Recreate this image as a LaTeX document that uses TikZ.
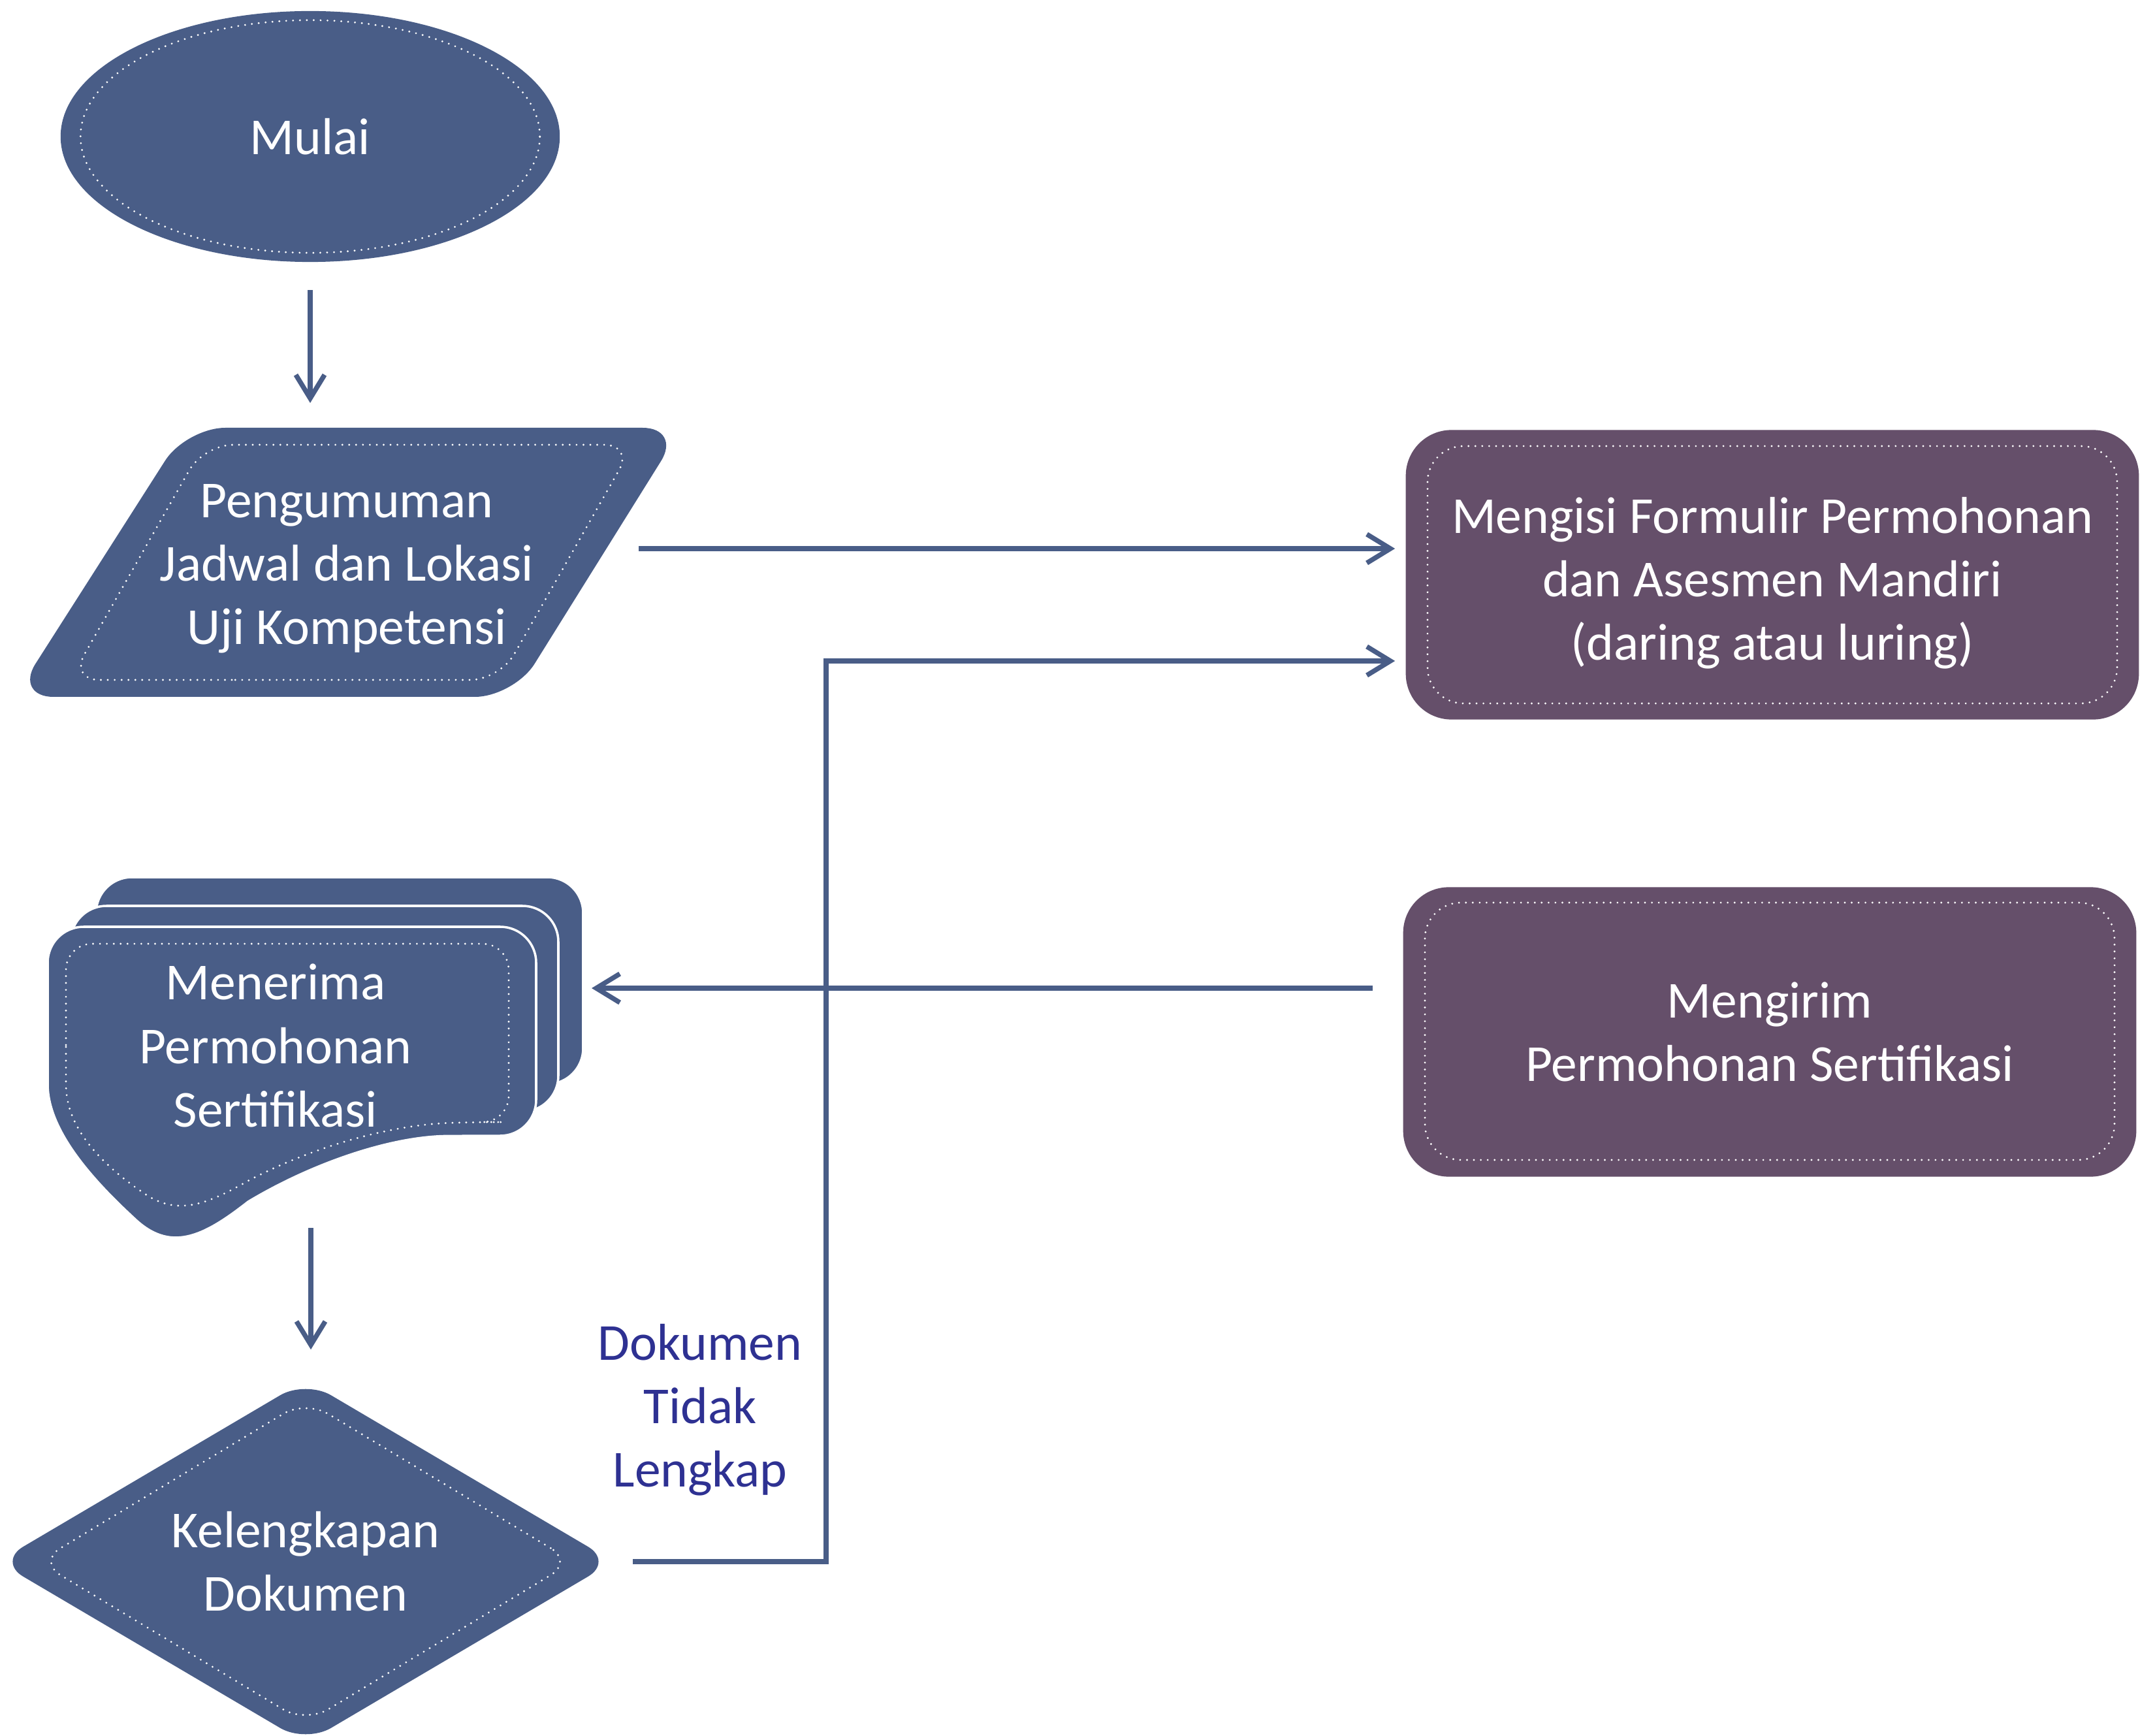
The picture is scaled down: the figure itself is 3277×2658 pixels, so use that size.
\documentclass[tikz,border=0pt]{standalone}
\usepackage{fontspec}
\setmainfont{Carlito}
\usepackage{tikz}
\usetikzlibrary{arrows.meta,calc,positioning,shapes.geometric}
\definecolor{flowblue}{RGB}{73,93,135}
\definecolor{flowpurple}{RGB}{101,79,106}
\definecolor{noteblue}{RGB}{46,49,146}
\newcommand{\flowfont}{\fontsize{22.6pt}{27.6pt}\selectfont}
\tikzset{%
	startstop/.style = {ellipse, fill=flowblue, text=white, font=\flowfont, inner sep=0pt, outer sep=0pt, minimum width=7.64cm, minimum height=3.84cm},
	process/.style   = {rectangle, rounded corners=0.7cm, fill=flowpurple, inner sep=0pt, outer sep=0pt, minimum width=11.22cm, minimum height=4.43cm},
	decision/.style  = {diamond, aspect=1.7, rounded corners=0.45cm, fill=flowblue, text=white, font=\flowfont, align=center, inner sep=0pt, outer sep=0pt, minimum width=9.42cm, minimum height=5.55cm},
	textonly/.style  = {text=white, font=\flowfont, align=center, inner sep=0pt},
	note/.style      = {text=noteblue, font=\flowfont, align=center, inner sep=0pt},
	dotline/.style   = {draw=white, line width=0.9pt, dash pattern=on 0pt off 3pt, line cap=round},
	page/.style      = {fill=flowblue, draw=white, line width=1pt},
	arrow/.style     = {draw=flowblue, line width=2.1pt, -{Straight Barb[length=3.6mm,width=4.4mm]}},
}

\begin{document}
\begin{tikzpicture}[x=0.01cm,y=-0.01cm]
		\useasboundingbox (0,0) rectangle (3277,2658);
		
		% start
		\node[startstop] (mulai) at (475,209) {Mulai};
		\node[ellipse, dotline, inner sep=0pt, minimum width=7.03cm, minimum height=3.56cm] (mulaidots) at (mulai.center) {};
		
		% input: announcement
		\fill[flowblue, rounded corners=0.6cm] (400,1067) -- (22,1067) -- (285,655) -- (1044,655) -- (787,1067) -- cycle;
		\draw[dotline, rounded corners=0.45cm] (400,1041) -- (107,1041) -- (312,681) -- (970,681) -- (765,1041) -- cycle;
		\node[textonly] (umum) at (531,871) {Pengumuman\\Jadwal dan Lokasi\\Uji Kompetensi};
		\coordinate (umumN) at (476,655);
		\coordinate (umumE) at (929,840);
		
		% multi document
		\filldraw[page, rounded corners=0.55cm] (147,1343) rectangle (893,1660);
		\filldraw[page, rounded corners=0.55cm] (108,1387) rectangle (855,1702);
		\filldraw[page] (73,1600) [rounded corners=0.55cm] -- (73,1419) -- (821,1419) -- (821,1739) -- (740,1739) [sharp corners] .. controls (600,1740) and (480,1780) .. (380,1840) .. controls (310,1895) and (260,1918) .. (205,1865) .. controls (140,1805) and (73,1730) .. (73,1660) -- cycle;
		\draw[dotline] (101,1600) [rounded corners=0.4cm] -- (101,1445) -- (779,1445) -- (779,1718) -- (730,1718) [sharp corners] .. controls (600,1722) and (480,1755) .. (380,1808) .. controls (320,1842) and (275,1862) .. (225,1830) .. controls (160,1787) and (101,1730) .. (101,1660) -- cycle;
		\node[textonly] (menerima) at (422,1601) {Menerima\\Permohonan\\Sertifikasi};
		\coordinate (stackE) at (893,1513);
		\coordinate (stackS) at (476,1880);
		
		% decision
		\node[decision] (kelengkapan) at (468,2391) {Kelengkapan\\Dokumen};
		\node[diamond, dotline, rounded corners=0.4cm, inner sep=0pt, minimum width=8.2cm, minimum height=4.95cm] (kelengkapandots) at (kelengkapan.center) {};
		
		% right column
		\node[process] (mengisi) at (2714,880) {};
		\draw[dotline, rounded corners=0.55cm] (2186,683) rectangle (3242,1077);
		\node[textonly] (mengisitxt) at ([yshift=-0.125cm]mengisi.center) {Mengisi Formulir Permohonan\\dan Asesmen Mandiri\\(daring atau luring)};
		\node[process] (mengirim) at (2710,1580) {};
		\draw[dotline, rounded corners=0.55cm] (2182,1382) rectangle (3238,1776);
		\node[textonly] (mengirimtxt) at (mengirim.center) {Mengirim\\Permohonan Sertifikasi};
		
		% connectors
		\coordinate (bend) at (1265,1012);
		\draw[arrow, shorten <=0.43cm, shorten >=0.38cm] (mulai.south) -- (mulai.south |- umumN);
		\draw[arrow, shorten <=0.49cm, shorten >=0.165cm] (umumE) -- (mengisi.west |- umumE);
		\draw[arrow, shorten <=0.47cm, shorten >=0.13cm] (mengirim.west |- stackE) -- (stackE);
		\draw[arrow, shorten >=0.47cm] (stackS) -- (kelengkapan.north -| stackS);
		\draw[arrow, shorten <=0.3cm, shorten >=0.165cm] (kelengkapan.east) -| (bend) -- (mengisi.west |- bend);
		
		\node[note] (tidak) at (1072,2159) {Dokumen\\Tidak\\Lengkap};
		
\end{tikzpicture}
\end{document}
